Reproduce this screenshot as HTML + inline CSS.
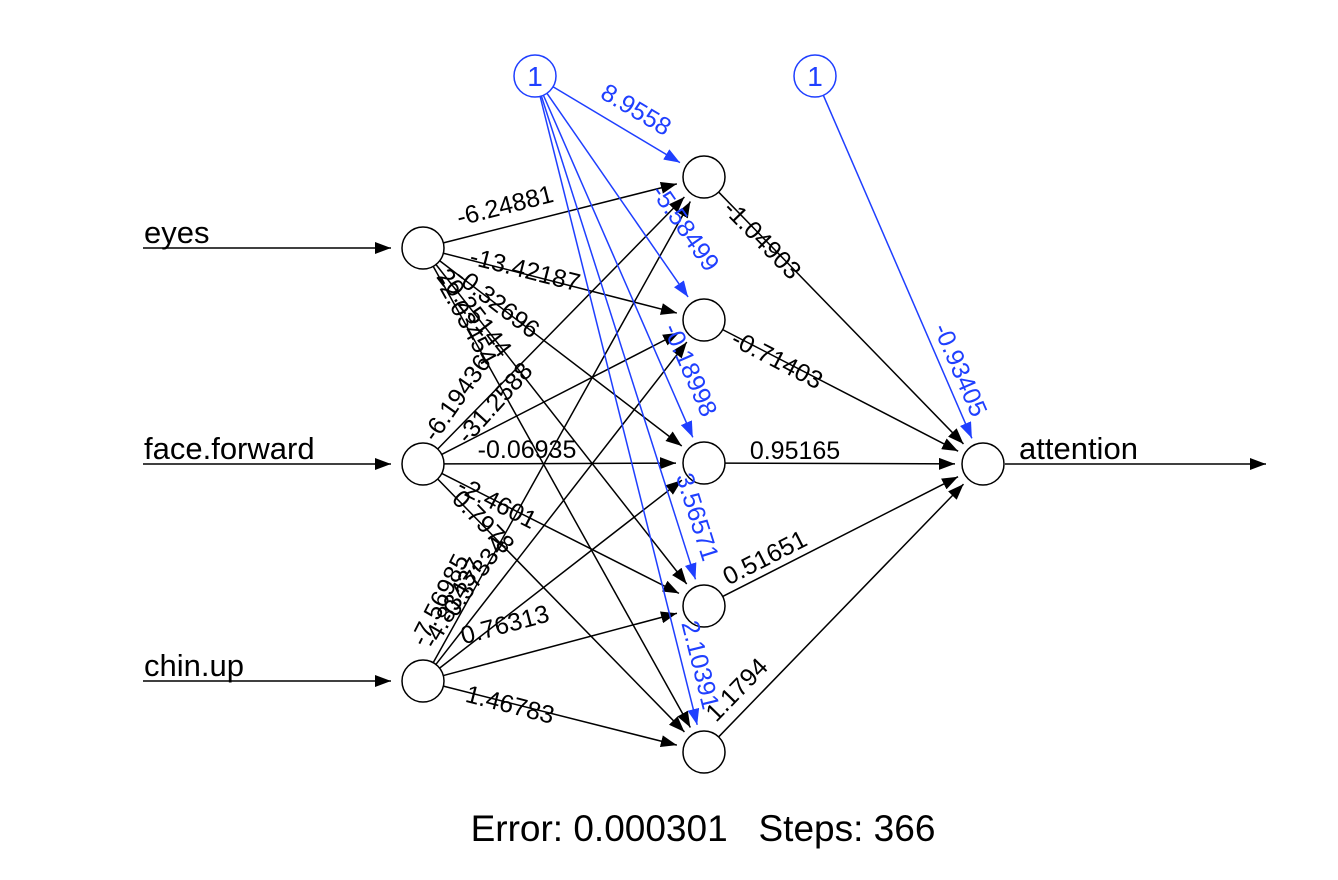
<!DOCTYPE html>
<html><head><meta charset="utf-8"><style>
html,body{margin:0;padding:0;background:#fff;}
svg{display:block;font-family:"Liberation Sans",Arial,sans-serif;}
.b{fill:#000;font-size:25px;}
.u{fill:#1f3fff;font-size:25px;}
</style></head><body>
<svg id="s" width="1338" height="880" viewBox="0 0 1338 880">
<defs>
<marker id="ak" viewBox="0 0 16 12" refX="16" refY="6" markerWidth="16" markerHeight="12" markerUnits="userSpaceOnUse" orient="auto"><path d="M0,0L16,6L0,12z" fill="#000"/></marker>
<marker id="ab" viewBox="0 0 16 12" refX="16" refY="6" markerWidth="16" markerHeight="12" markerUnits="userSpaceOnUse" orient="auto"><path d="M0,0L16,6L0,12z" fill="#1f3fff"/></marker>
</defs>
<g id="lines"></g>
<g fill="#fff" stroke="#000" stroke-width="1.5">
<circle cx="423" cy="248" r="21"/><circle cx="423" cy="464" r="21"/><circle cx="423" cy="681" r="21"/>
<circle cx="704" cy="177" r="21"/><circle cx="704" cy="320" r="21"/><circle cx="704" cy="463" r="21"/><circle cx="704" cy="606" r="21"/><circle cx="704" cy="752" r="21"/>
<circle cx="983" cy="464" r="21"/>
<circle cx="535" cy="76" r="21" stroke="#1f3fff"/><circle cx="815" cy="76" r="21" stroke="#1f3fff"/>
</g>
<text x="535" y="86" text-anchor="middle" class="u" style="font-size:28px">1</text>
<text x="815" y="86" text-anchor="middle" class="u" style="font-size:28px">1</text>
<g style="font-size:31px" fill="#000">
<text x="144" y="243">eyes</text>
<text x="144" y="459">face.forward</text>
<text x="144" y="676">chin.up</text>
<text x="1019" y="459">attention</text>
</g>
<text x="703" y="841" text-anchor="middle" xml:space="preserve" style="font-size:37px;white-space:pre">Error: 0.000301   Steps: 366</text>
<g class="b" text-anchor="middle" dominant-baseline="central">
<text transform="translate(505,206) rotate(-14.4)">-6.24881</text>
<text transform="translate(525,270) rotate(14.2)">-13.42187</text>
<text transform="translate(497,303) rotate(37.5)">-0.32696</text>
<text transform="translate(474,313) rotate(52)">20.25144</text>
<text transform="translate(466,320) rotate(61)">-2.03454</text>
<text transform="translate(457,398) rotate(-55)">-6.19436</text>
<text transform="translate(495,403) rotate(-48)">-31.2588</text>
<text transform="translate(527,450)">-0.06935</text>
<text transform="translate(497,503) rotate(27)">-2.4601</text>
<text transform="translate(483,522) rotate(45.8)">0.7978</text>
<text transform="translate(440,600) rotate(-63)">-7.56985</text>
<text transform="translate(453,603) rotate(-60)">-4.83437</text>
<text transform="translate(473,580) rotate(-55)">-0.37334</text>
<text transform="translate(505,625) rotate(-15)">0.76313</text>
<text transform="translate(510,705) rotate(14.4)">1.46783</text>
<text transform="translate(762,240) rotate(45.8)">-1.04903</text>
<text transform="translate(777,360) rotate(27.4)">-0.71403</text>
<text transform="translate(795,451)">0.95165</text>
<text transform="translate(765,558) rotate(-27)">0.51651</text>
<text transform="translate(737,690) rotate(-45.8)">1.1794</text>
</g>
<g class="u" text-anchor="middle" dominant-baseline="central">
<text transform="translate(636,110) rotate(30.8)">8.9558</text>
<text transform="translate(685,228) rotate(55.3)">-5.58499</text>
<text transform="translate(690,370) rotate(66.5)">-0.18998</text>
<text transform="translate(697,517) rotate(72.4)">3.56571</text>
<text transform="translate(700,665) rotate(76)">2.10391</text>
<text transform="translate(960,370) rotate(66.6)">-0.93405</text>
</g>
</svg>
<script>
(function(){
var g=document.getElementById('lines'),NS='http://www.w3.org/2000/svg';
function L(x1,y1,x2,y2,blue,r1,r2){
 var dx=x2-x1,dy=y2-y1,d=Math.sqrt(dx*dx+dy*dy),ux=dx/d,uy=dy/d;
 var l=document.createElementNS(NS,'line');
 l.setAttribute('x1',x1+ux*r1);l.setAttribute('y1',y1+uy*r1);
 l.setAttribute('x2',x2-ux*r2);l.setAttribute('y2',y2-uy*r2);
 l.setAttribute('stroke',blue?'#1f3fff':'#000');l.setAttribute('stroke-width','1.5');
 l.setAttribute('marker-end',blue?'url(#ab)':'url(#ak)');
 g.appendChild(l);
}
var I=[[423,248],[423,464],[423,681]],H=[[704,177],[704,320],[704,463],[704,606],[704,752]],O=[983,464];
I.forEach(function(a){H.forEach(function(h){L(a[0],a[1],h[0],h[1],0,21,28);});L(143,a[1],391,a[1],0,0,0);});
H.forEach(function(h){L(h[0],h[1],O[0],O[1],0,21,28);L(535,76,h[0],h[1],1,21,28);});
L(815,76,O[0],O[1],1,21,28);
L(1005,464,1266,464,0,0,0);
})();
</script>
</body></html>
